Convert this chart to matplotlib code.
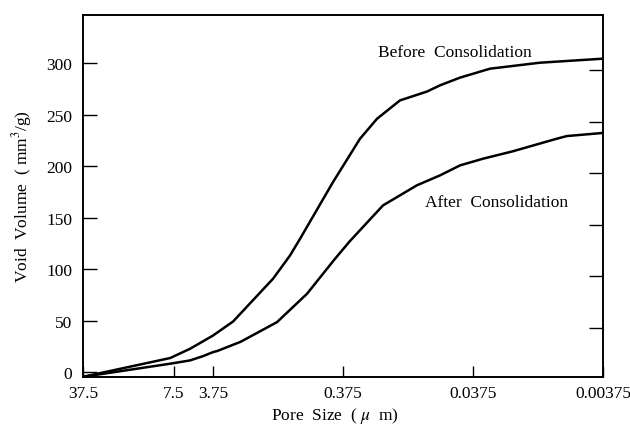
import matplotlib
matplotlib.use("Agg")
import matplotlib.pyplot as plt
from matplotlib.ticker import FixedLocator, NullLocator

# pore size (um) vs cumulative void volume (mm3/g)
before_size = [37.5, 8.03, 5.64, 3.75, 2.63, 1.296, 0.959, 0.803, 0.4475, 0.2776,
               0.2053, 0.1367, 0.0847, 0.0673, 0.0472, 0.0277, 0.01145, 0.00375]
before_vol = [-4.4, 13.8, 22.8, 35.7, 49.3, 90.8, 113.4, 129.6, 184.7, 226.7,
              246.1, 263.9, 272.5, 278.5, 286.0, 294.7, 300.5, 304.4]

after_size = [37.5, 8.03, 5.64, 4.47, 3.75, 3.49, 2.3, 1.207, 0.710, 0.432, 0.331,
              0.1846, 0.1012, 0.0673, 0.0472, 0.0314, 0.0185, 0.0085, 0.0071, 0.00375]
after_vol = [-4.4, 8.3, 11.5, 15.7, 19.6, 20.6, 29.6, 48.7, 76.2, 110.2, 127.5,
             162, 181.5, 191.1, 200.8, 207.3, 214.5, 226.7, 229.3, 232.3]

x_ticks = [37.5, 7.5, 3.75, 0.375, 0.0375, 0.00375]
x_labels = ["37.5", "7.5", "3.75", "0.375", "0.0375", "0.00375"]
y_ticks = [0, 50, 100, 150, 200, 250, 300]
right_ticks = [43, 93, 143, 193, 243, 293]

plt.rcParams['font.family'] = ['Liberation Serif', 'DejaVu Serif']
plt.rcParams['mathtext.fontset'] = 'stix'

fig = plt.figure(figsize=(6.3, 4.27), dpi=100)
ax = fig.add_axes([0.132, 0.115, 0.825, 0.848])

ax.plot(before_size, before_vol, color='black', lw=1.8)
ax.plot(after_size, after_vol, color='black', lw=1.8)

ax.set_xscale('log')
ax.set_xlim(37.5, 0.00375)
ax.set_ylim(-4.5, 347)

ax.xaxis.set_major_locator(FixedLocator(x_ticks))
ax.xaxis.set_minor_locator(NullLocator())
ax.set_xticklabels(x_labels)
ax.set_yticks(y_ticks)

ax.tick_params(axis='x', direction='in', length=8, width=1.0, pad=6, labelsize=12.5, top=False)
ax.tick_params(axis='y', direction='in', length=10, width=1.0, pad=8, labelsize=12.5)

ax2 = ax.twinx()
ax2.set_ylim(ax.get_ylim())
ax2.set_yticks(right_ticks)
ax2.set_yticklabels([])
ax2.tick_params(axis='y', direction='in', length=10, width=1.0)

for a in (ax, ax2):
    for s in a.spines.values():
        s.set_linewidth(1.2)

ax.text(0.0515, 311, "Before  Consolidation", ha='center', va='center', fontsize=12.5)
ax.text(0.0245, 165.6, "After  Consolidation", ha='center', va='center', fontsize=12.5)

ax.set_xlabel("Pore  Size  ( $\\mu$  m)", fontsize=12.5)
ax.xaxis.set_label_coords(0.485, -0.078)
ax.set_ylabel("Void  Volume  ( mm$^3$/g)", fontsize=12.5)
ax.yaxis.set_label_coords(-0.095, 0.5)

fig.savefig("out.png", dpi=100)
